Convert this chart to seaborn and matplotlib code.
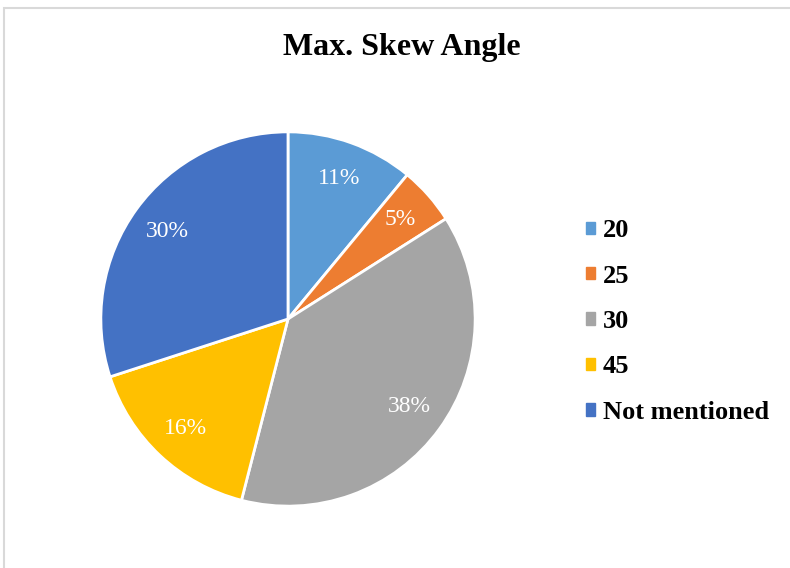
import matplotlib
matplotlib.use("Agg")
import matplotlib.pyplot as plt
import matplotlib.patches as mpatches
import seaborn as sns

# data
labels = ["20", "25", "30", "45", "Not mentioned"]
shares = [11, 5, 38, 16, 30]
colors = ["#5B9BD5", "#ED7D31", "#A5A5A5", "#FFC000", "#4472C4"]

sns.set_theme(style="white")
plt.rcParams['font.family'] = ['Liberation Serif', 'DejaVu Serif']
plt.rcParams['text.color'] = 'black'

fig = plt.figure(figsize=(7.9, 5.68), dpi=100)

# chart area frame (cut off on the right and bottom in the reference)
frame = mpatches.Rectangle((4 / 790, -0.05), 1.0, (568 - 8) / 568 + 0.05,
                           transform=fig.transFigure, fill=False,
                           edgecolor="#D9D9D9", linewidth=1.5)
fig.patches.append(frame)

ax = fig.add_axes([(288 - 189) / 790, (249 - 189) / 568, 378 / 790, 378 / 568])
wedges, texts, autotexts = ax.pie(
    shares, colors=sns.color_palette(colors), startangle=90, counterclock=False,
    autopct=lambda p: f"{p:.0f}%", pctdistance=0.8, radius=1.0,
    wedgeprops=dict(edgecolor="white", linewidth=2),
    textprops=dict(color="white", fontsize=17))
ax.set_xlim(-1.01, 1.01)
ax.set_ylim(-1.01, 1.01)
ax.set_aspect("equal")
ax.axis("off")

fig.text(402 / 790, 1 - 47 / 568, "Max. Skew Angle", ha="center", va="center",
         fontsize=23, fontweight="bold", color="black")

handles = [mpatches.Patch(color=c, label=l) for c, l in zip(colors, labels)]
leg = fig.legend(handles=handles, loc="center left",
                 bbox_to_anchor=(562 / 790, 1 - 321.5 / 568), frameon=False,
                 prop=dict(size=19, weight="bold"), handlelength=0.34,
                 handleheight=0.34, handletextpad=0.3, labelspacing=0.85)
for t in leg.get_texts():
    t.set_color("black")

fig.savefig("out.png", dpi=100)
